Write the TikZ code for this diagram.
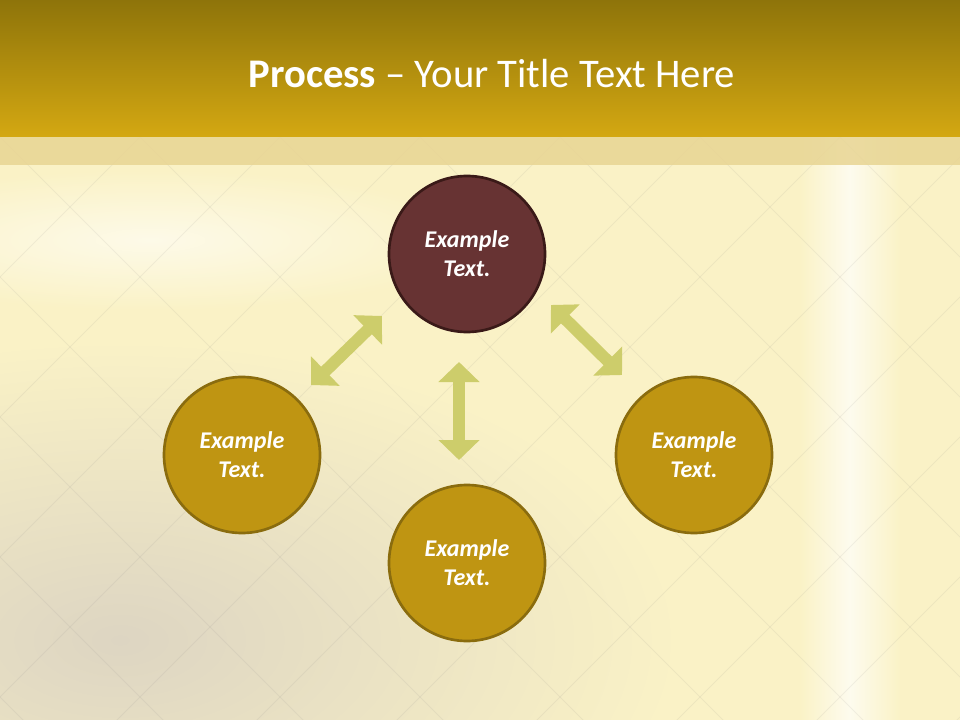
\documentclass[tikz,border=0pt]{standalone}
\usepackage{fontspec}
\setmainfont{Carlito}
\usetikzlibrary{arrows.meta}
\definecolor{barTop}{HTML}{8E740A}
\definecolor{barBot}{HTML}{D4A812}
\definecolor{band}{HTML}{E8D593}
\definecolor{cream}{HTML}{FAF2C6}
\definecolor{greyish}{HTML}{DDD5C2}
\definecolor{topFill}{HTML}{673333}
\definecolor{topLine}{HTML}{3A1A18}
\definecolor{goldFill}{HTML}{BF9512}
\definecolor{goldLine}{HTML}{8A6C0E}
\definecolor{arrowCol}{HTML}{CDCD6B}
\begin{document}
\begin{tikzpicture}[x=0.75pt,y=-0.75pt,style=thick]
\newcommand{\csize}{117pt}
\useasboundingbox (0,0) rectangle (960,720);
\fill[cream] (0,0) rectangle (960,720);
\begin{scope}
\clip (0,137) rectangle (960,720);
\shade[inner color=greyish,outer color=cream] (120,640) ellipse (560 and 300);
\shade[inner color=white!60!cream,outer color=cream] (150,240) ellipse (330 and 70);
\shade[left color=cream,right color=white!70!cream] (800,137) rectangle (850,720);
\shade[left color=white!70!cream,right color=cream] (850,137) rectangle (900,720);
\foreach \i in {-6,...,12} {
  \draw[gray,opacity=.1,line width=.6pt] (\i*140,137) -- ++(600,600);
  \draw[gray,opacity=.1,line width=.6pt] (\i*140,137) -- ++(-600,600);
}
\end{scope}
\shade[top color=barTop,bottom color=barBot] (0,0) rectangle (960,137);
\fill[band,opacity=.85] (0,137) rectangle (960,165);
\node[text=white,font=\fontsize{30.5}{36}\selectfont,anchor=base] (title) at (492,88)
  {\textbf{Process} -- Your Title Text Here};
\begin{scope}[shape=circle,minimum size=\csize,inner sep=0pt,line width=2pt]
\tikzstyle{every node}=[draw=goldLine,fill=goldFill,text=white,align=center,
  font=\fontsize{18}{21.6}\selectfont\bfseries\itshape]
\node[draw=topLine,fill=topFill] (C_top) at (467,254) {Example\\Text.};
\node (C_left) at (242,455) {Example\\Text.};
\node (C_bottom) at (467,563) {Example\\Text.};
\node (C_right) at (694,455) {Example\\Text.};
\end{scope}
\begin{scope}[line width=9pt,arrowCol,{Triangle[width=30pt,length=15pt]}-{Triangle[width=30pt,length=15pt]}]
\coordinate (L_a) at (311,385);
\coordinate (L_b) at (382,316);
\coordinate (M_a) at (459,362);
\coordinate (M_b) at (459,460);
\coordinate (R_a) at (551,305);
\coordinate (R_b) at (622,375);
\draw (L_a) -- (L_b);
\draw (M_a) -- (M_b);
\draw (R_a) -- (R_b);
\end{scope}
\end{tikzpicture}
\end{document}
